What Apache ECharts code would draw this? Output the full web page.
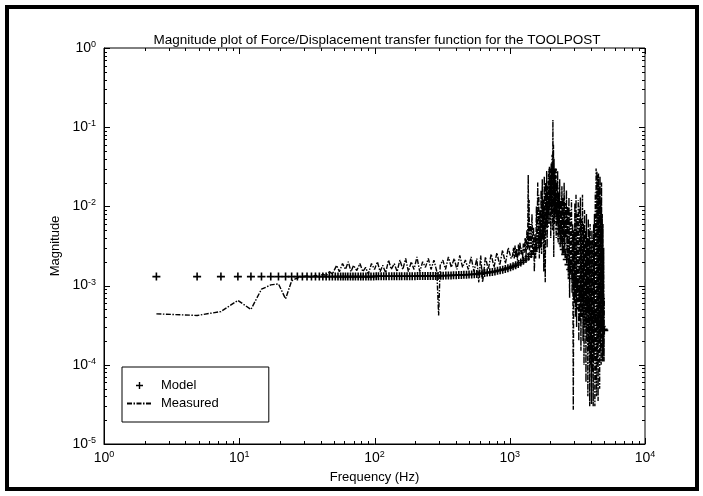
<!DOCTYPE html>
<html><head><meta charset="utf-8">
<script src="https://cdn.jsdelivr.net/npm/echarts@6/dist/echarts.min.js"></script>
<style>html,body{margin:0;padding:0;background:#fff}#c{width:703px;height:496px}</style>
</head><body><div id="c"></div>
<script>
const FONT = "'Liberation Sans', Arial, Helvetica, sans-serif";
const titleText = 'Magnitude plot of Force/Displacement transfer function for the TOOLPOST';
const xName = 'Frequency (Hz)';
const yName = 'Magnitude';
const seriesNames = ['Model', 'Measured'];
const xRange = [1, 10000];
const yRange = [1e-5, 1];
const xDecades = [0, 1, 2, 3];
const yDecades = [-5, -4, -3, -2, -1];
const tickMantissas = [1, 2, 3, 4, 5, 6, 7, 8, 9];

// Model: [frequency Hz, magnitude]
const modelPoints = [
 [2.44,1.3e-3],[4.88,1.3e-3],[7.32,1.3e-3],[9.77,1.3e-3],[12.2,1.3e-3],[14.6,1.3e-3],[17.1,1.3e-3],[19.5,1.3e-3],
 [22.0,1.3e-3],[24.4,1.3e-3],[26.9,1.3e-3],[29.3,1.3e-3],[31.7,1.3e-3],[34.2,1.3e-3],[36.6,1.3e-3],[39.1,1.3e-3],
 [41.5,1.3e-3],[43.9,1.3e-3],[46.4,1.3e-3],[48.8,1.3e-3],[51.3,1.3e-3],[53.7,1.3e-3],[56.2,1.3e-3],[58.6,1.3e-3],
 [61.0,1.3e-3],[63.5,1.3e-3],[66.4,1.3e-3],[69.3,1.3e-3],[72.3,1.3e-3],[75.7,1.3e-3],[79.1,1.3e-3],[82.5,1.3e-3],
 [86.4,1.3e-3],[90.3,1.3e-3],[94.2,1.3e-3],[98.6,1.3e-3],[103,1.31e-3],[107,1.31e-3],[112,1.31e-3],[117,1.31e-3],
 [122,1.31e-3],[128,1.31e-3],[134,1.31e-3],[140,1.31e-3],[146,1.31e-3],[153,1.31e-3],[159,1.31e-3],[167,1.31e-3],
 [174,1.31e-3],[182,1.31e-3],[190,1.31e-3],[199,1.31e-3],[208,1.32e-3],[217,1.32e-3],[227,1.32e-3],[237,1.32e-3],
 [248,1.32e-3],[259,1.32e-3],[271,1.32e-3],[283,1.32e-3],[295,1.32e-3],[309,1.33e-3],[322,1.33e-3],[337,1.34e-3],
 [352,1.34e-3],[368,1.34e-3],[384,1.35e-3],[402,1.35e-3],[420,1.36e-3],[439,1.36e-3],[458,1.37e-3],[479,1.37e-3],
 [500,1.38e-3],[523,1.38e-3],[547,1.39e-3],[571,1.40e-3],[597,1.42e-3],[624,1.43e-3],[652,1.44e-3],[681,1.46e-3],
 [712,1.47e-3],[744,1.49e-3],[777,1.51e-3],[812,1.54e-3],[849,1.56e-3],[887,1.59e-3],[927,1.62e-3],[969,1.66e-3],
 [1013,1.70e-3],[1058,1.75e-3],[1106,1.81e-3],[1155,1.87e-3],[1207,1.96e-3],[1262,2.06e-3],[1318,2.17e-3],[1378,2.32e-3],
 [1440,2.50e-3],[1504,2.72e-3],[1572,3.02e-3],[1643,3.45e-3],[1700,3.9e-3],[1740,4.4e-3],[1780,4.9e-3],[1820,5.6e-3],
 [1850,6.2e-3],[1880,7.0e-3],[1910,8.0e-3],[1935,9.2e-3],[1960,1.07e-2],[1980,1.22e-2],[2000,1.50e-2],[2015,1.75e-2],
 [2030,2.03e-2],[2045,2.40e-2],[2060,2.73e-2],[2070,2.88e-2],[2080,2.95e-2],[2090,2.88e-2],[2100,2.69e-2],[2115,2.35e-2],
 [2130,1.96e-2],[2145,1.68e-2],[2160,1.43e-2],[2180,1.20e-2],[2200,1.02e-2],[2225,8.6e-3],[2250,7.4e-3],[2280,6.4e-3],
 [2320,5.2e-3],[2360,4.5e-3],[2400,3.93e-3],[2450,3.40e-3],[2510,2.86e-3],[2570,2.48e-3],[2640,2.14e-3],[2720,1.84e-3],
 [2800,1.60e-3],[2890,1.40e-3],[2980,1.23e-3],[3080,1.09e-3],[3180,9.7e-4],[3290,8.7e-4],[3400,7.8e-4],[3520,7.0e-4],
 [3640,6.3e-4],[3770,5.7e-4],[3900,5.2e-4],[4040,4.7e-4],[4180,4.3e-4],[4320,3.9e-4],[4470,3.6e-4],[4620,3.3e-4],
 [4780,3.05e-4],[4940,2.8e-4],[5000,2.72e-4]
];

// Measured: [frequency Hz, magnitude]
const measuredPoints = [
 [2.44,4.4e-4],[4.88,4.2e-4],[7.32,4.7e-4],[9.77,6.5e-4],[12.2,5.0e-4],[14.6,9.0e-4],[17.1,1.02e-3],[19.5,1.05e-3],
 [22.0,6.8e-4],[24.4,1.15e-3],[26.9,1.25e-3],[29.3,1.3e-3],[31.7,1.32e-3],[34.2,1.28e-3],[36.6,1.35e-3],[39.1,1.3e-3],
 [41.5,1.4e-3],[43.9,1.33e-3],[46.4,1.5e-3],[48.8,1.4e-3],
 [50,1.45e-3],[52.5,1.8e-3],[55,1.5e-3],[58,1.9e-3],[61,1.6e-3],[64,2.0e-3],[67,1.5e-3],[70,1.8e-3],[74,1.55e-3],
 [78,1.9e-3],[82,1.5e-3],[86,1.7e-3],[90,1.4e-3],[95,1.9e-3],[100,1.6e-3],[105,2.0e-3],[110,1.5e-3],[115,1.8e-3],
 [121,1.45e-3],[127,2.1e-3],[133,1.6e-3],[140,1.9e-3],[147,1.5e-3],[154,2.1e-3],[162,1.6e-3],[170,2.2e-3],[178,1.5e-3],
 [187,2.0e-3],[196,1.6e-3],[206,2.3e-3],[216,1.5e-3],[227,2.0e-3],[238,1.7e-3],[250,2.2e-3],[262,1.6e-3],[275,2.1e-3],
 [289,1.5e-3],[298,4.2e-4],[306,1.8e-3],[320,2.1e-3],[335,1.6e-3],[352,2.3e-3],[370,1.7e-3],[388,2.2e-3],[407,1.6e-3],
 [427,2.4e-3],[448,1.7e-3],[470,2.1e-3],[494,1.6e-3],[518,2.3e-3],[544,1.5e-3],[571,2.2e-3],[590,1.1e-3],[610,2.4e-3],
 [630,1.1e-3],[661,2.3e-3],[694,1.6e-3],[729,2.5e-3],[765,1.7e-3],[803,2.6e-3],[843,1.8e-3],[885,2.8e-3],[929,1.9e-3],
 [975,3.0e-3],[1024,2.2e-3],
 [1050,2.4e-3],[1065,3.0e-3],[1080,2.2e-3],[1095,3.2e-3],[1110,2.3e-3],[1125,2.9e-3],[1140,2.1e-3],[1160,3.3e-3],
 [1175,2.4e-3],[1190,3.5e-3],[1210,2.5e-3],[1225,3.0e-3],[1245,2.2e-3],[1260,3.4e-3],[1280,2.6e-3],[1300,4.0e-3],
 [1320,2.4e-3],[1340,5.0e-3],[1355,2.8e-3],[1370,2.5e-2],[1380,3.0e-3],[1390,1.2e-2],[1400,2.6e-3],[1420,6.0e-3],
 [1440,3.0e-3],[1460,8.0e-3],[1480,2.5e-3],[1500,5.5e-3],[1520,1.5e-3],[1540,4.5e-3],[1555,2.2e-3],[1575,1.0e-2],
 [1590,2.8e-3],[1610,2.0e-2],[1625,3.5e-3],[1640,1.4e-2],[1655,2.2e-3],[1670,9.0e-3],[1690,3.0e-3],[1705,1.6e-2],
 [1720,2.5e-3],[1740,2.2e-2],[1755,4.0e-3],[1770,1.2e-2],[1785,1.5e-3],[1800,2.4e-2],[1815,5.0e-3],[1830,1.1e-3],
 [1845,2.0e-2],[1860,6.0e-3],[1875,2.8e-2],[1890,3.0e-3],[1905,1.8e-2],[1920,8.0e-3],[1935,2.6e-2],[1950,6.0e-3],
 [1965,3.2e-2],[1980,1.0e-2],[1995,2.5e-2],[2010,4.0e-3],[2025,3.5e-2],[2040,8.0e-3],[2055,4.5e-2],[2070,5.0e-3],
 [2085,0.123],[2095,1.0e-2],[2105,6.0e-2],[2115,2.3e-3],[2125,4.0e-2],[2140,6.0e-3],[2155,3.0e-2],[2170,8.0e-3],
 [2190,2.5e-2],[2205,4.0e-3],[2220,2.0e-2],[2240,6.0e-3],[2260,2.8e-2],[2280,3.5e-3],[2300,1.5e-2],[2320,5.0e-3],
 [2340,2.2e-2],[2360,3.0e-3],[2385,1.2e-2],[2405,4.5e-3],[2430,1.8e-2],[2450,2.5e-3],[2475,1.3e-2],[2500,3.5e-3],
 [2525,2.0e-2],[2550,2.6e-3],[2575,1.1e-2],[2600,4.0e-3],[2625,1.6e-2],[2650,2.2e-3],[2680,1.0e-2],[2710,1.2e-3],
 [2740,1.3e-2],[2770,7.0e-4],[2800,9.0e-3],[2830,1.5e-3],[2860,1.2e-2],[2890,8.0e-4],[2920,6.0e-3],[2950,2.7e-5],
 [2975,5.0e-3],[3000,6.0e-4],[3030,1.1e-2],[3060,4.0e-4],[3090,1.4e-2],[3120,3.0e-4],[3150,8.0e-3],[3180,5.0e-4],
 [3210,1.2e-2],[3240,2.0e-4],[3270,1.0e-2],[3300,3.5e-4],[3330,1.3e-2],[3360,1.5e-4],[3390,7.0e-3],[3420,4.0e-4],
 [3450,1.4e-2],[3480,2.0e-4],[3510,6.0e-3],[3540,1.0e-4],[3570,9.0e-3],[3600,3.0e-4],[3630,5.0e-3],[3660,6.0e-5],
 [3690,8.0e-3],[3720,2.0e-4],[3750,4.0e-3],[3780,4.0e-5],[3810,7.0e-3],[3840,1.5e-4],[3870,5.0e-3],[3900,3.0e-5],
 [3930,6.0e-3],[3960,1.0e-4],[3990,3.7e-3],[4020,3.2e-5],[4050,5.0e-3],[4080,8.0e-5],[4110,4.0e-3],[4140,3.0e-5],
 [4170,6.0e-3],[4200,1.2e-4],[4230,8.0e-3],[4260,3.0e-5],[4290,1.5e-2],[4320,6.0e-5],[4350,3.0e-2],[4380,4.0e-5],
 [4410,2.8e-2],[4440,1.0e-4],[4470,2.5e-2],[4500,3.5e-5],[4530,2.6e-2],[4560,2.0e-4],[4590,1.8e-2],[4620,5.0e-5],
 [4650,2.4e-2],[4680,1.5e-4],[4710,1.2e-2],[4740,1.0e-4],[4770,2.0e-2],[4800,3.0e-4],[4830,8.0e-3],[4860,1.1e-4],
 [4890,6.0e-3],[4920,1.4e-4],[4950,3.0e-3],[4980,1.1e-4],[5000,7.0e-4]
];

const PLUS = 'path://M3.2,0H4.8V3.2H8V4.8H4.8V8H3.2V4.8H0V3.2H3.2Z';

// tick positions (axis decoration), built from decades and mantissas
const xTicks = [];
xDecades.forEach(d => tickMantissas.forEach(m => xTicks.push([m * Math.pow(10, d), m === 1 ? 1 : 0])));
xTicks.push([xRange[1], 1]);
const yTicks = [];
yDecades.forEach(d => tickMantissas.forEach(m => yTicks.push([m * Math.pow(10, d), m === 1 ? 1 : 0])));
yTicks.push([yRange[1], 1]);

function supLabel(v) {
  const e = Math.round(Math.log10(v));
  return '{b|10}{s|' + e + '}';
}
const richLab = {
  b: { fontSize: 14, fontFamily: FONT, color: '#000', lineHeight: 16 },
  s: { fontSize: 9, fontFamily: FONT, color: '#000', verticalAlign: 'top', lineHeight: 16 }
};

const chart = echarts.init(document.getElementById('c'), null, { renderer: 'canvas' });
chart.setOption({
  animation: false,
  backgroundColor: '#fff',
  title: {
    text: titleText, left: 372, top: 28, textAlign: 'center',
    textStyle: { fontSize: 13.5, fontWeight: 'normal', color: '#000', fontFamily: FONT }
  },
  grid: { left: 104, right: 58, top: 48, bottom: 52, show: true, borderColor: '#000', borderWidth: 1, backgroundColor: 'transparent' },
  legend: {
    orient: 'vertical', left: 122, top: 367,
    data: [{ name: seriesNames[0], icon: PLUS }, { name: seriesNames[1], itemStyle: { opacity: 0 } }],
    borderColor: '#000', borderWidth: 1, borderRadius: 0, backgroundColor: '#fff',
    padding: [11, 50, 11, 4], itemGap: 3, itemWidth: 25, itemHeight: 7,
    textStyle: { fontSize: 13, color: '#000', fontFamily: FONT, lineHeight: 15, padding: [0, 0, 0, 4] }
  },
  xAxis: {
    type: 'log', logBase: 10, min: xRange[0], max: xRange[1], splitNumber: 4,
    name: xName, nameLocation: 'middle', nameGap: 27,
    nameTextStyle: { fontSize: 13, color: '#000', fontFamily: FONT },
    axisLine: { show: true, lineStyle: { color: '#000', width: 1 } },
    axisTick: { show: false }, splitLine: { show: false }, minorTick: { show: false },
    axisLabel: { margin: 6, formatter: supLabel, rich: richLab }
  },
  yAxis: {
    type: 'log', logBase: 10, min: yRange[0], max: yRange[1], splitNumber: 5,
    name: yName, nameLocation: 'middle', nameGap: 34,
    nameTextStyle: { fontSize: 13, color: '#000', fontFamily: FONT },
    axisLine: { show: true, lineStyle: { color: '#000', width: 1 } },
    axisTick: { show: false }, splitLine: { show: false }, minorTick: { show: false },
    axisLabel: { margin: 8, formatter: supLabel, rich: richLab }
  },
  graphic: [{
    type: 'rect', shape: { x: 7, y: 7, width: 690, height: 482 },
    style: { fill: 'none', stroke: '#000', lineWidth: 4 }, silent: true, z: 100
  }],
  series: [
    {
      name: seriesNames[1], type: 'line', data: measuredPoints, symbol: 'none', showSymbol: false,
      lineStyle: { color: '#000', width: 1.4, type: [5, 1.5, 1.5, 1.5] }, itemStyle: { color: '#000' },
      z: 3, silent: true
    },
    {
      name: seriesNames[0], type: 'scatter', data: modelPoints, symbol: PLUS, symbolSize: 8,
      itemStyle: { color: '#000', opacity: 1 }, z: 4, silent: true
    },
    {
      type: 'custom', data: xTicks, silent: true, z: 5, clip: false,
      renderItem: function (params, api) {
        const cs = params.coordSys;
        const p = api.coord([api.value(0), yRange[0]]);
        const x = Math.round(p[0]) + 0.5;
        const len = api.value(1) ? 6 : 3;
        const st = { stroke: '#000', lineWidth: 1 };
        return { type: 'group', children: [
          { type: 'line', shape: { x1: x, y1: cs.y + cs.height, x2: x, y2: cs.y + cs.height - len }, style: st },
          { type: 'line', shape: { x1: x, y1: cs.y, x2: x, y2: cs.y + len }, style: st }
        ] };
      }
    },
    {
      type: 'custom', data: yTicks.map(t => [xRange[0], t[0], t[1]]), silent: true, z: 5, clip: false,
      renderItem: function (params, api) {
        const cs = params.coordSys;
        const p = api.coord([xRange[0], api.value(1)]);
        const y = Math.round(p[1]) + 0.5;
        const len = api.value(2) ? 6 : 3;
        const st = { stroke: '#000', lineWidth: 1 };
        return { type: 'group', children: [
          { type: 'line', shape: { x1: cs.x, y1: y, x2: cs.x + len, y2: y }, style: st },
          { type: 'line', shape: { x1: cs.x + cs.width, y1: y, x2: cs.x + cs.width - len, y2: y }, style: st }
        ] };
      }
    }
  ]
});
</script></body></html>
